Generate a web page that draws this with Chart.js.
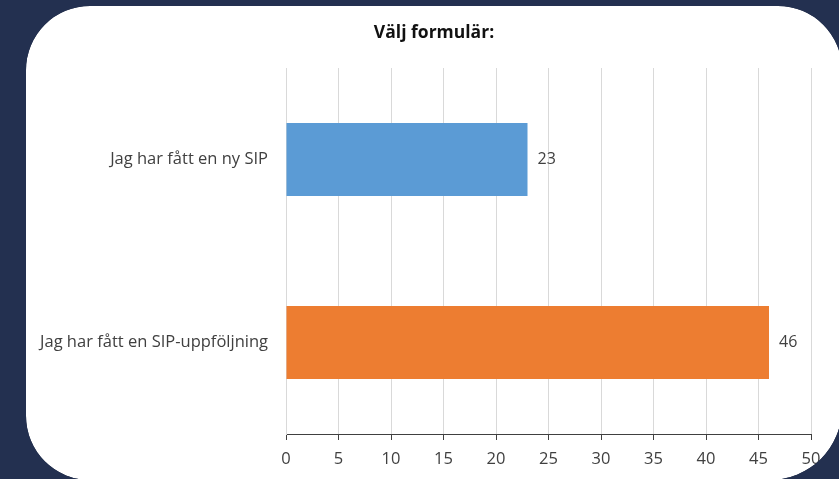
<!DOCTYPE html>
<html>
<head>
<meta charset="utf-8">
<script src="https://cdn.jsdelivr.net/npm/chart.js@4"></script>
<style>
  html, body { margin: 0; padding: 0; background: #233050; }
  #wrap { position: relative; width: 839px; height: 479px; }
</style>
</head>
<body>
<div id="wrap"><canvas id="formChart"></canvas></div>
<script>
// Data
const categories = ['Jag har fått en ny SIP', 'Jag har fått en SIP-uppföljning'];
const answers = [23, 46];
const barColors = ['#5B9BD5', '#ED7D31'];
const xTicks = [0, 5, 10, 15, 20, 25, 30, 35, 40, 45, 50];
const chartTitle = 'Välj formulär:';

const BG = '#233050';
const card = { x: 26, y: 6, w: 816, h: 474, r: [64, 64, 72, 64] };

// white rounded card behind the chart, dark corners clipped over it afterwards
const cardPlugin = {
    id: 'card',
    beforeDraw(chart) {
        const ctx = chart.ctx;
        ctx.save();
        ctx.fillStyle = BG;
        ctx.fillRect(0, 0, chart.width, chart.height);
        ctx.shadowColor = 'rgba(0,0,0,0.45)';
        ctx.shadowBlur = 8;
        ctx.fillStyle = '#ffffff';
        ctx.beginPath();
        ctx.roundRect(card.x, card.y, card.w, card.h, card.r);
        ctx.fill();
        ctx.restore();
    },
    afterDraw(chart) {
        const ctx = chart.ctx;
        ctx.save();
        // title centred on the card, not on the plot
        ctx.font = 'bold 17.5px "Open Sans"';
        ctx.fillStyle = '#111111';
        ctx.textAlign = 'center';
        ctx.textBaseline = 'middle';
        ctx.fillText(chartTitle, card.x + card.w / 2, 33);
        ctx.beginPath();
        ctx.rect(0, 0, chart.width, chart.height);
        ctx.roundRect(card.x, card.y, card.w, card.h, card.r);
        ctx.fillStyle = BG;
        ctx.fill('evenodd');
        ctx.restore();
    }
};

// value labels to the right of each bar
const valueLabels = {
    id: 'valueLabels',
    afterDatasetsDraw(chart) {
        const ctx = chart.ctx;
        const meta = chart.getDatasetMeta(0);
        ctx.save();
        ctx.font = '16px "Open Sans"';
        ctx.fillStyle = '#404040';
        ctx.textAlign = 'left';
        ctx.textBaseline = 'middle';
        meta.data.forEach((bar, i) => {
            ctx.fillText(answers[i], bar.x + 10, bar.y);
        });
        ctx.restore();
    }
};

const ctx = document.getElementById('formChart').getContext('2d');
new Chart(ctx, {
    type: 'bar',
    data: {
        labels: categories,
        datasets: [{
            data: answers,
            backgroundColor: barColors,
            borderWidth: 0,
            categoryPercentage: 1,
            barPercentage: 0.4
        }]
    },
    options: {
        indexAxis: 'y',
        responsive: true,
        maintainAspectRatio: false,
        animation: false,
        layout: { padding: { left: 0, right: 28, top: 68, bottom: 0 } },
        plugins: {
            legend: { display: false },
            tooltip: { enabled: false },
            title: { display: false }
        },
        scales: {
            x: {
                min: 0,
                max: 50,
                afterBuildTicks(scale) {
                    scale.ticks = xTicks.map(v => ({ value: v }));
                },
                afterFit(scale) { scale.height = 45; },
                grid: { color: '#d9d9d9', tickColor: '#404040', tickLength: 6 },
                border: { color: '#404040', width: 1 },
                ticks: {
                    color: '#404040',
                    padding: 9,
                    font: { family: 'Open Sans', size: 16.5 }
                }
            },
            y: {
                afterFit(scale) { scale.width = 286; },
                grid: { display: false, drawTicks: false },
                border: { color: '#d9d9d9', width: 1 },
                ticks: {
                    color: '#404040',
                    padding: 18,
                    font: { family: 'Open Sans', size: 16.5 }
                }
            }
        }
    },
    plugins: [cardPlugin, valueLabels]
});
</script>
</body>
</html>
